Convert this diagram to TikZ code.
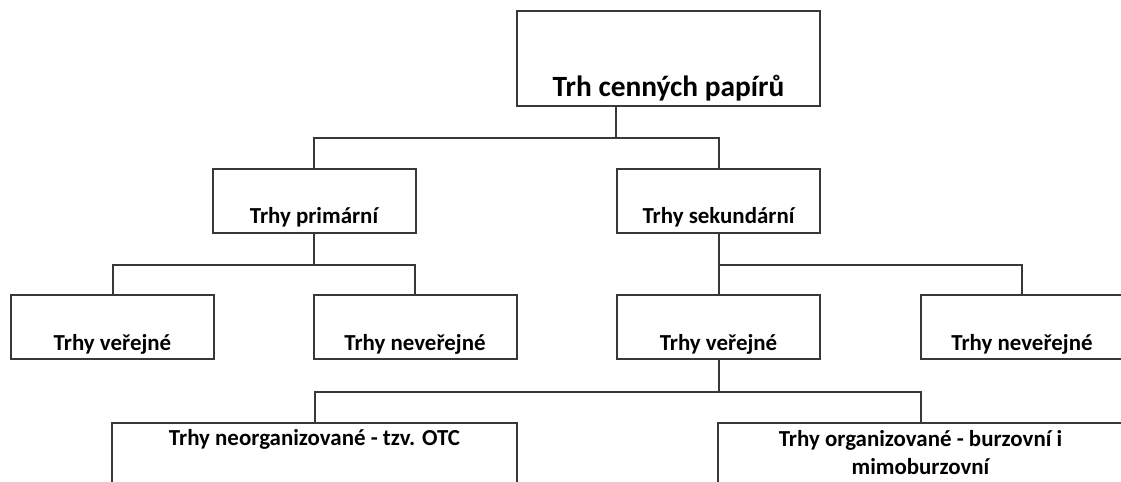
\documentclass[tikz,border=0pt]{standalone}
\usepackage{fontspec}
\setmainfont{Carlito}
\begin{document}
\begin{tikzpicture}[x=1bp,y=-1bp,
    box/.style={draw=black!78, line width=2bp, inner sep=0pt,
      minimum width=203bp, minimum height=64bp, text height=55bp, text depth=9bp,
      font=\fontsize{23}{27}\selectfont\bfseries},
    link/.style={draw=black!78, line width=2bp},
    lbl/.style={anchor=base, inner sep=0pt, align=center,
      font=\fontsize{23}{28}\selectfont\bfseries}]
\useasboundingbox (0,0) rectangle (1121,482);
\clip (0,0) rectangle (1121,482);

\node[box, minimum width=303bp, minimum height=95bp, text height=86bp,
  font=\fontsize{29.5}{33}\selectfont\bfseries] (top) at (668.5,58.5) {Trh cenných papírů};

\node[box] (prim) at (314,201) {Trhy primární};
\node[box] (sek) at (718.5,201) {Trhy sekundární};

\node[box] (ver1) at (112.5,327) {Trhy veřejné};
\node[box] (nev1) at (415,327) {Trhy neveřejné};
\node[box] (ver2) at (718.5,327) {Trhy veřejné};
\node[box] (nev2) at (1022,327) {Trhy neveřejné};

\node[box, minimum width=405bp, minimum height=80bp] (neorg) at (314.5,463) {};
\node[box, minimum width=405bp, minimum height=80bp] (org) at (920.5,463) {};
\node[lbl] (neorgt) at ([yshift=-24bp]neorg.north) {Trhy neorganizované - tzv. OTC};
\node[lbl] (orgt) at ([yshift=-52bp]org.north) {Trhy organizované - burzovní i\\mimoburzovní};

% connectors
\draw[link] (top.south -| sek.west) -- ++(0,31) coordinate (a1);
\draw[link] (prim.north) |- (a1) -| (sek.north);
\draw[link] (prim.south) -- ++(0,31) coordinate (a2);
\draw[link] (ver1.north) |- (a2) -| (nev1.north);
\draw[link] (sek.south) -- (ver2.north);
\path (sek.south) ++(0,31) coordinate (a3);
\draw[link] (a3) -| (nev2.north);
\draw[link] (ver2.south) -- ++(0,32) coordinate (a4);
\draw[link] (neorg.north) |- (a4) -| (org.north);
\end{tikzpicture}
\end{document}
